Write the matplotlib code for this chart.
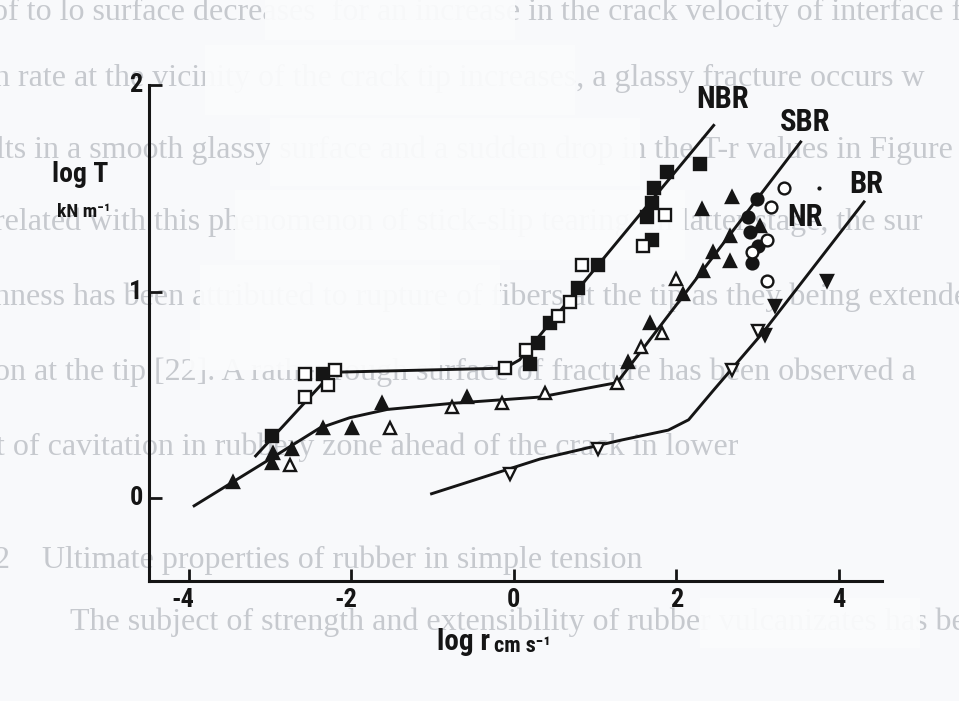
import matplotlib.pyplot as plt
from matplotlib.patches import Rectangle
from matplotlib.transforms import offset_copy

plt.rcParams['axes.unicode_minus'] = False

# tearing energy vs tear rate, four rubbers
nbr_line_x = [-3.19, -2.23, -0.11, 0.07, 2.47]
nbr_line_y = [0.20, 0.61, 0.63, 0.67, 1.81]
nbr_filled_x = [-2.98, -2.35, 0.20, 0.30, 0.44, 0.79, 1.04, 1.64, 1.70, 1.70, 1.73, 1.89, 2.29]
nbr_filled_y = [0.30, 0.60, 0.65, 0.75, 0.85, 1.02, 1.13, 1.36, 1.25, 1.43, 1.50, 1.58, 1.62]
nbr_open_x = [-2.57, -2.57, -2.29, -2.20, -0.11, 0.15, 0.54, 0.69, 0.84, 1.59, 1.86]
nbr_open_y = [0.49, 0.60, 0.55, 0.62, 0.63, 0.72, 0.88, 0.95, 1.13, 1.22, 1.37]

sbr_line_x = [-3.95, -2.96, -2.39, -2.02, -1.56, -0.75, 0.32, 1.27, 3.54]
sbr_line_y = [-0.04, 0.20, 0.34, 0.39, 0.43, 0.46, 0.49, 0.56, 1.73]
sbr_filled_x = [-3.46, -2.96, -2.98, -2.73, -2.35, -1.99, -1.62, -0.58, 1.40, 1.67,
                2.08, 2.33, 2.45, 2.66, 2.66, 2.31, 2.69, 3.03]
sbr_filled_y = [0.08, 0.22, 0.17, 0.24, 0.34, 0.34, 0.46, 0.49, 0.66, 0.85,
                0.99, 1.10, 1.19, 1.27, 1.15, 1.40, 1.46, 1.32]
sbr_open_x = [-2.76, -1.53, -0.76, -0.15, 0.38, 1.27, 1.57, 1.82, 2.00]
sbr_open_y = [0.16, 0.34, 0.44, 0.46, 0.51, 0.56, 0.73, 0.80, 1.06]

nr_filled_x = [2.99, 2.88, 2.90, 3.00, 2.93]
nr_filled_y = [1.45, 1.36, 1.29, 1.22, 1.14]
nr_open_x = [3.33, 3.17, 3.12, 2.93, 3.11]
nr_open_y = [1.50, 1.41, 1.25, 1.19, 1.05]

br_line_x = [-1.03, 0.32, 1.30, 1.90, 2.15, 2.45, 3.06, 4.32]
br_line_y = [0.02, 0.19, 0.28, 0.33, 0.38, 0.52, 0.80, 1.44]
br_filled_x = [3.85, 3.21, 3.09]
br_filled_y = [1.05, 0.93, 0.79]
br_open_x = [-0.05, 1.03, 2.69, 3.00]
br_open_y = [0.12, 0.24, 0.62, 0.81]

x_ticks = [-4, -2, 0, 2, 4]
y_ticks = [0, 1, 2]

# text showing through from the other side of the page
page_lines = [
    (-8, 12, "of to lo surface decreases  for an increase in the crack velocity of interface fr"),
    (-6, 78, "n rate at the vicinity of the crack tip increases, a glassy fracture occurs w"),
    (-4, 150, "lts in a smooth glassy surface and a sudden drop in the T-r values in Figure"),
    (-6, 222, "related with this phenomenon of stick-slip tearing. In latter stage, the sur"),
    (-6, 297, "hness has been attributed to rupture of fibers at the tip as they being extended"),
    (-6, 372, "on at the tip [22]. A rather rough surface of fracture has been observed a"),
    (-4, 447, "t of cavitation in rubbery zone ahead of the crack in lower"),
    (-6, 560, "2    Ultimate properties of rubber in simple tension"),
    (70, 622, "The subject of strength and extensibility of rubber vulcanizates has be"),
]
masks = [(265, 0, 250, 40), (205, 45, 370, 70), (270, 118, 370, 68),
         (235, 190, 450, 70), (200, 265, 300, 65), (190, 330, 250, 40),
         (700, 598, 220, 50)]

W, H = 959, 701
ink = '#151515'
cond = dict(family=['Roboto Condensed', 'DejaVu Sans'], fontstretch='condensed',
            fontweight='bold', color=ink)

fig = plt.figure(figsize=(W / 100, H / 100), dpi=100)
fig.patch.set_facecolor('#f8f9fb')

for px, py, s in page_lines:
    fig.text(px / W, 1 - py / H, s, fontsize=23, family='Liberation Serif',
             color='#c6c9ce', va='center', ha='left', zorder=-3)
for mx, my, mw, mh in masks:
    fig.patches.append(Rectangle((mx / W, 1 - (my + mh) / H), mw / W, mh / H,
                                 transform=fig.transFigure, facecolor='#fbfcfd',
                                 edgecolor='none', alpha=0.93, zorder=-2))

ax = fig.add_axes([149 / W, 1 - 581 / H, (882 - 149) / W, (581 - 85) / H])
ax.patch.set_alpha(0)
ax.set_xlim(-4.49, 4.53)
ax.set_ylim(-0.40, 2.0)

lk = dict(color=ink, lw=2.1, solid_capstyle='butt', zorder=2)
ax.plot(nbr_line_x, nbr_line_y, **lk)
ax.plot(sbr_line_x, sbr_line_y, **lk)
ax.plot(br_line_x, br_line_y, **lk)

mk = dict(ls='none', markersize=8.5, markeredgewidth=1.7, markeredgecolor=ink, zorder=3)
ax.plot(nbr_filled_x, nbr_filled_y, marker='s', markerfacecolor=ink, **mk)
ax.plot(nbr_open_x, nbr_open_y, marker='s', markerfacecolor='white', **mk)
ax.plot(sbr_filled_x, sbr_filled_y, marker='^', markerfacecolor=ink, **mk)
ax.plot(sbr_open_x, sbr_open_y, marker='^', markerfacecolor='white', **mk)
ax.plot(nr_filled_x, nr_filled_y, marker='o', markerfacecolor=ink, **mk)
ax.plot(nr_open_x, nr_open_y, marker='o', markerfacecolor='white', **mk)
ax.plot(br_filled_x, br_filled_y, marker='v', markerfacecolor=ink, **mk)
ax.plot(br_open_x, br_open_y, marker='v', markerfacecolor='white', **mk)

ax.text(2.57, 1.93, 'NBR', fontsize=22, ha='center', va='center', **cond)
ax.text(3.58, 1.82, 'SBR', fontsize=22, ha='center', va='center', **cond)
ax.text(4.34, 1.52, 'BR', fontsize=22, ha='center', va='center', **cond)
ax.text(3.58, 1.36, 'NR', fontsize=22, ha='center', va='center', **cond)
ax.plot([3.76], [1.50], marker='o', markersize=2, color=ink, ls='none')

for side in ('top', 'right'):
    ax.spines[side].set_visible(False)
for side in ('left', 'bottom'):
    ax.spines[side].set_linewidth(2.2)
    ax.spines[side].set_color(ink)

# ticks point into the plot; labels drawn by hand so the digit sits under the tick
ax.set_xticks(x_ticks)
ax.set_yticks(y_ticks)
ax.set_xticklabels([])
ax.set_yticklabels([])
ax.tick_params(direction='in', length=9, width=2, color=ink)

for v in x_ticks:
    shift = -6 if v < 0 else 0
    tr = offset_copy(ax.get_xaxis_transform(), fig=fig, x=shift, y=-19, units='dots')
    ax.text(v, 0, str(v), transform=tr, fontsize=19, ha='center', va='center', **cond)
for v in y_ticks:
    tr = offset_copy(ax.get_yaxis_transform(), fig=fig, x=-13, y=0, units='dots')
    ax.text(0, v, str(v), transform=tr, fontsize=19, ha='center', va='center', **cond)

fig.text(108 / W, 1 - 175 / H, 'log T', fontsize=20, ha='right', va='center', **cond)
fig.text(110 / W, 1 - 212 / H, 'kN m⁻¹', fontsize=14, ha='right', va='center', **cond)
fig.text(490 / W, 1 - 642 / H, 'log r', fontsize=21, ha='right', va='center', **cond)
fig.text(494 / W, 1 - 646 / H, 'cm s⁻¹', fontsize=16, ha='left', va='center', **cond)

fig.savefig('out.png', dpi=100, facecolor=fig.get_facecolor())
